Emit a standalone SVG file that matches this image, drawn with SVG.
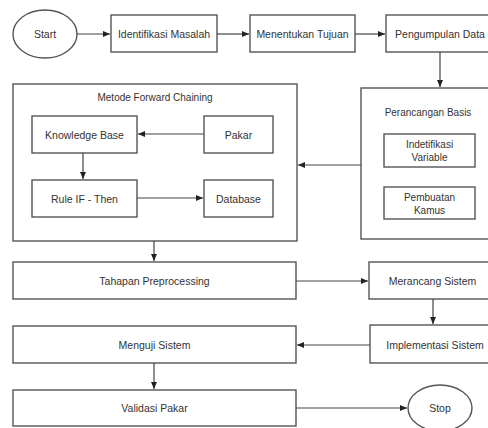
<svg xmlns="http://www.w3.org/2000/svg" width="488" height="428" viewBox="0 0 488 428">
<defs>
<marker id="ah" markerWidth="8" markerHeight="8" refX="7" refY="4" orient="auto" markerUnits="userSpaceOnUse">
<path d="M0,1 L7,4 L0,7 Z" fill="#222"/>
</marker>
<style>
.b{fill:#fff;stroke:#555;stroke-width:1.4}
.t{font-family:"Liberation Sans",Arial,sans-serif;font-size:10.5px;fill:#333;text-anchor:middle;dominant-baseline:central}
.c{fill:none;stroke:#444;stroke-width:1.2;marker-end:url(#ah)}
</style>
</defs>
<rect width="488" height="428" fill="#fff"/>
<g id="start"><ellipse class="b" cx="45" cy="34" rx="32" ry="24"/><text class="t" x="45" y="34">Start</text></g>
<g id="identifikasi"><rect class="b" x="111" y="15" width="106" height="37"/><text class="t" x="164" y="34">Identifikasi Masalah</text></g>
<g id="menentukan"><rect class="b" x="250" y="15" width="105" height="37"/><text class="t" x="302.5" y="34">Menentukan Tujuan</text></g>
<g id="pengumpulan"><rect class="b" x="386" y="15" width="108" height="37"/><text class="t" x="440" y="34">Pengumpulan Data</text></g>
<g id="metode"><rect class="b" x="13" y="84" width="284" height="157"/><text class="t" x="155" y="97" style="font-size:10px">Metode Forward Chaining</text></g>
<g id="knowledge"><rect class="b" x="32" y="116" width="105" height="37"/><text class="t" x="84.5" y="134.5">Knowledge Base</text></g>
<g id="pakar"><rect class="b" x="204" y="116" width="69" height="37"/><text class="t" x="238.5" y="134.5">Pakar</text></g>
<g id="rule"><rect class="b" x="32" y="180" width="105" height="37"/><text class="t" x="84.5" y="198.5">Rule IF - Then</text></g>
<g id="database"><rect class="b" x="204" y="180" width="69" height="37"/><text class="t" x="238.5" y="198.5">Database</text></g>
<g id="perancangan"><rect class="b" x="361" y="88" width="133" height="151"/><text class="t" x="428" y="112" style="font-size:10px">Perancangan Basis</text></g>
<g id="variable"><rect class="b" x="384" y="134" width="91" height="33"/><text class="t" x="429.5" y="144.5" style="font-size:10px">Indetifikasi</text><text class="t" x="429.5" y="157.5" style="font-size:10px">Variable</text></g>
<g id="kamus"><rect class="b" x="384" y="187" width="91" height="32"/><text class="t" x="429.5" y="197" style="font-size:10px">Pembuatan</text><text class="t" x="429.5" y="210" style="font-size:10px">Kamus</text></g>
<g id="tahapan"><rect class="b" x="13" y="262" width="283" height="37"/><text class="t" x="154.5" y="281">Tahapan Preprocessing</text></g>
<g id="merancang"><rect class="b" x="369" y="262" width="127" height="37"/><text class="t" x="432.5" y="281">Merancang Sistem</text></g>
<g id="implementasi"><rect class="b" x="370" y="325" width="130" height="38"/><text class="t" x="435" y="344.5">Implementasi Sistem</text></g>
<g id="menguji"><rect class="b" x="13" y="326" width="283" height="37"/><text class="t" x="154.5" y="344.5">Menguji Sistem</text></g>
<g id="validasi"><rect class="b" x="13" y="390" width="283" height="36"/><text class="t" x="154.5" y="408">Validasi Pakar</text></g>
<g id="stop"><ellipse class="b" cx="440" cy="408" rx="32" ry="23"/><text class="t" x="440" y="408">Stop</text></g>
<g id="connectors">
<path class="c" d="M77,34 H110"/>
<path class="c" d="M217,34 H249"/>
<path class="c" d="M355,34 H385"/>
<path class="c" d="M440,52 V87"/>
<path class="c" d="M361,165 H298"/>
<path class="c" d="M204,134 H138"/>
<path class="c" d="M83,153 V179"/>
<path class="c" d="M137,198 H203"/>
<path class="c" d="M154,241 V261"/>
<path class="c" d="M296,281 H368"/>
<path class="c" d="M433,299 V324"/>
<path class="c" d="M370,345 H297"/>
<path class="c" d="M154,363 V389"/>
<path class="c" d="M296,408 H407"/>
</g>
</svg>
